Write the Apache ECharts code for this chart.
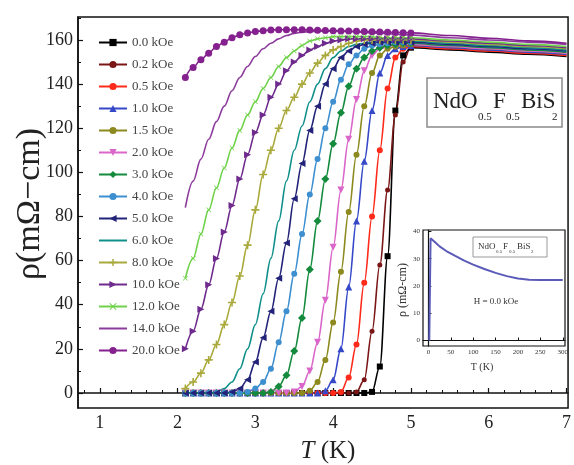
<!DOCTYPE html>
<html>
<head>
<meta charset="utf-8">
<script src="https://cdn.jsdelivr.net/npm/echarts@6/dist/echarts.min.js"></script>
<style>html,body{margin:0;padding:0;background:#fff}#c{width:574px;height:465px}</style>
</head>
<body>
<div id="c"></div>
<script>
// ---------- data ----------
const T = [2.1,2.2,2.3,2.4,2.5,2.6,2.7,2.8,2.9,3.0,3.1,3.2,3.3,3.4,3.5,3.6,3.7,3.8,3.9,4.0,4.1,4.2,4.3,4.4,4.5,4.6,4.7,4.8,4.9,5.0,5.5,6.0,6.5,7.0];
const fieldNames = ['0.0 kOe','0.2 kOe','0.5 kOe','1.0 kOe','1.5 kOe','2.0 kOe','3.0 kOe','4.0 kOe','5.0 kOe','6.0 kOe','8.0 kOe','10.0 kOe','12.0 kOe','14.0 kOe','20.0 kOe'];
const rho_00 = [0,0,0,0,0,0,0,0,0,0,0,0,0,0,0,0,0,0,0,0,0,0,0,0,0.5,12,62,128,153,156.5,155.5,154.5,153.5,152.5];
const rho_02 = [0,0,0,0,0,0,0,0,0,0,0,0,0,0,0,0,0,0,0,0,0,0,0.5,6,28,58,92,126,150,157,156,155,154,153];
const rho_05 = [0,0,0,0,0,0,0,0,0,0,0,0,0,0,0,0,0,0,0,0,0.5,7,22,50,80,110,138,152,156,157,156,155,154,153];
const rho_10 = [0,0,0,0,0,0,0,0,0,0,0,0,0,0,0,0,0,0,1,6,20,48,78,105,128,145,153,156,157,157.5,156.5,155.5,154.5,153.5];
const rho_15 = [0,0,0,0,0,0,0,0,0,0,0,0,0,0,0,0,1,5,15,32,55,82,108,130,145,153,156,157,157.5,158,157,156,155,154];
const rho_20 = [0,0,0,0,0,0,0,0,0,0,0,0,0,0,0.5,3,10,23,42,66,92,115,133,146,153,156,157,157.5,158,158,157,156,155,154];
const rho_30 = [0,0,0,0,0,0,0,0,0,0,0,0.5,3,8,19,34,56,78,97,113,127,139,147,152,155,156.5,157.5,158,158.5,158.5,157.5,156.5,155.5,154.5];
const rho_40 = [0,0,0,0,0,0,0,0,0.5,2,5,11,23,37,54,72,90,106,120,132,142,149,153,156,157.5,158,158.5,159,159,159,158,157,156,155];
const rho_50 = [0,0,0,0,0,0,0.5,2,6,14,25,37,52,68,88,104,119,130,140,147,152,155,157,158,158.5,159,159,159,159,159,158,157,156,155];
const rho_60 = [0,0,0,0,0.5,2,5,11,20,31,45,61,78,96,110,121,132,140,147,152,155,157,158,158.5,159,159.5,159.5,159.5,159.5,159.5,158.5,157.5,156.5,155.5];
const rho_80 = [2,5,9,15,22,31,41,53,67,83,99,110,120,128,134,140,145,149.5,153,155.5,157,158.5,159.5,160,160,160,160,160,160,160,159,158,157,156];
const rho_100 = [20,28,38,49,61,73,85,97,108,118,126,134,140,146,150,153,155.5,157,158.5,159.5,160,160.5,160.5,160.5,160.5,160.5,160.5,160.5,160.5,160.5,159.5,158.5,157.5,156.5];
const rho_120 = [52,61,72,83,93,102,111,119,126,132,138,143,148,152,155,157.5,159.5,160.5,161,161.5,161.5,161.5,161.5,161.5,161.5,161,161,161,161,161,160,159,158,157];
const rho_140 = [84,96,106,115,123,130,137,143,148,152.5,156,158.5,160.5,162,163,163.5,163.8,164,164,164,164,163.8,163.6,163.4,163.2,163,162.8,162.6,162.4,162.2,161,160,159,158];
const rho_200 = [143,147.5,151,154,157,159,161,162.3,163.2,163.8,164.2,164.5,164.6,164.6,164.6,164.6,164.5,164.4,164.3,164.2,164.1,164,163.9,163.8,163.7,163.6,163.5,163.4,163.3,163.2,162,160.8,159.6,158.5];
const allRho = [rho_00,rho_02,rho_05,rho_10,rho_15,rho_20,rho_30,rho_40,rho_50,rho_60,rho_80,rho_100,rho_120,rho_140,rho_200];

// inset data (H = 0.0 kOe)
const insetT = [2,4.4,4.9,8,15,25,40,60,80,100,125,150,175,200,225,250,275,300];
const insetRho = [0,0,37.5,37,36,34.5,32.8,31,29.3,27.8,26.2,24.8,23.6,22.7,22.3,22.2,22.2,22.2];

// tick values
const xMajor = [1,2,3,4,5,6,7];
const xMinor = [0.8,1.2,1.4,1.6,1.8,2.2,2.4,2.6,2.8,3.2,3.4,3.6,3.8,4.2,4.4,4.6,4.8,5.2,5.4,5.6,5.8,6.2,6.4,6.6,6.8];
const yMajor = [0,20,40,60,80,100,120,140,160];
const yMinor = [10,30,50,70,90,110,130,150,170];
const insetXTicks = [0,50,100,150,200,250,300];
const insetYTicks = [0,10,20,30,40];

// ---------- styles ----------
const colors = ['#000000','#7a1616','#ff2a1a','#3548c8','#8c8a1e','#d966c8','#138a3c','#3d8fd0','#23237a','#10908a','#a9a93c','#6e2a8c','#6fd24a','#8c3a9c','#85208f'];
const plus = 'path://M4,0H6V4H10V6H6V10H4V6H0V4H4Z';
const cross = 'path://M1,0L5,4L9,0L10,1L6,5L10,9L9,10L5,6L1,10L0,9L4,5L0,1Z';
const symbols = ['rect','circle','circle','triangle','circle','triangle','diamond','circle','triangle','none',plus,'triangle',cross,'none','circle'];
const rot = [0,0,0,0,0,180,0,0,90,0,0,-90,0,0,0];
const sizes = [6,5,6,7,6,7,8,6,7,0,8,7,5,0,7];
const F = 'Liberation Serif';

const series = allRho.map((r, k) => ({
  name: fieldNames[k],
  type: 'line',
  xAxisIndex: 0, yAxisIndex: 0,
  data: T.map((t, i) => t > 5.01 ? {value: [t, r[i]], symbol: 'none'} : [t, r[i]]),
  symbol: symbols[k],
  symbolRotate: rot[k],
  symbolSize: sizes[k],
  showSymbol: symbols[k] !== 'none',
  smooth: 0.35,
  smoothMonotone: 'x',
  lineStyle: {width: 1.6, color: colors[k]},
  itemStyle: {color: colors[k]},
  emphasis: {disabled: true},
  animation: false
}));

series.push({
  type: 'line', xAxisIndex: 2, yAxisIndex: 2,
  data: insetT.map((t, i) => [t, insetRho[i]]),
  showSymbol: false, symbol: 'none',
  lineStyle: {width: 2, color: '#5a5ab8'},
  animation: false
});

const lineIcon = 'path://M0,0L28,0L28,2L0,2Z';
const legendData = fieldNames.map((n, k) => symbols[k] === 'none' ? {name: n, icon: lineIcon} : {name: n});

function txt(x, y, s, size, color) {
  return {type: 'text', x: x, y: y, style: {text: s, font: size + 'px "Liberation Serif"', fill: color, verticalAlign: 'top'}};
}

const chart = echarts.init(document.getElementById('c'), null, {renderer: 'canvas'});
const option = {
  backgroundColor: '#fff',
  animation: false,
  color: colors,
  legend: {
    data: legendData,
    orient: 'vertical',
    left: 93, top: 31,
    itemWidth: 28, itemHeight: 9, itemGap: 9,
    textStyle: {fontFamily: F, fontSize: 13, color: '#444'},
    selectedMode: false
  },
  grid: [
    {left: 78, top: 17, right: 2, bottom: 57, show: true, borderColor: '#111', borderWidth: 1.5, backgroundColor: 'transparent'},
    {left: 423, top: 230, width: 142, height: 116, show: true, borderColor: '#111', borderWidth: 1.2, backgroundColor: '#fff'}
  ],
  xAxis: [
    {gridIndex: 0, type: 'value', min: 0.72, max: 7.02,
     axisLine: {show: true, lineStyle: {color: '#111', width: 1.5}},
     axisTick: {show: true, inside: true, length: 5, customValues: xMajor, lineStyle: {color: '#111', width: 1.2}},
     axisLabel: {customValues: xMajor, fontFamily: F, fontSize: 18, color: '#222', margin: 6},
     splitLine: {show: false}},
    {gridIndex: 0, type: 'value', min: 0.72, max: 7.02, position: 'bottom',
     axisLine: {show: false},
     axisTick: {show: true, inside: true, length: 3, customValues: xMinor, lineStyle: {color: '#111', width: 1}},
     axisLabel: {show: false}, splitLine: {show: false}},
    {gridIndex: 1, type: 'value', min: -12, max: 305,
     axisLine: {show: true, lineStyle: {color: '#111', width: 1.2}},
     axisTick: {show: true, inside: true, length: 3, customValues: insetXTicks, lineStyle: {color: '#111'}},
     axisLabel: {customValues: insetXTicks, fontFamily: F, fontSize: 7, color: '#333', margin: 3},
     splitLine: {show: false}}
  ],
  yAxis: [
    {gridIndex: 0, type: 'value', min: -6.8, max: 170.4,
     axisLine: {show: true, lineStyle: {color: '#111', width: 1.5}},
     axisTick: {show: true, inside: true, length: 5, customValues: yMajor, lineStyle: {color: '#111', width: 1.2}},
     axisLabel: {customValues: yMajor, fontFamily: F, fontSize: 18, color: '#222', margin: 5},
     splitLine: {show: false}},
    {gridIndex: 0, type: 'value', min: -6.8, max: 170.4, position: 'left',
     axisLine: {show: false},
     axisTick: {show: true, inside: true, length: 3, customValues: yMinor, lineStyle: {color: '#111', width: 1}},
     axisLabel: {show: false}, splitLine: {show: false}},
    {gridIndex: 1, type: 'value', min: -2, max: 40.5,
     axisLine: {show: true, lineStyle: {color: '#111', width: 1.2}},
     axisTick: {show: true, inside: true, length: 3, customValues: insetYTicks, lineStyle: {color: '#111'}},
     axisLabel: {customValues: insetYTicks, fontFamily: F, fontSize: 7, color: '#333', margin: 3},
     splitLine: {show: false}}
  ],
  graphic: [
    {type: 'text', x: 30, y: 204, rotation: Math.PI / 2,
     style: {text: 'ρ(mΩ−cm)', font: '34px "Liberation Serif"', fill: '#222', align: 'center', verticalAlign: 'middle'}},
    {type: 'text', x: 328, y: 451,
     style: {text: '{i|T} (K)', rich: {i: {fontStyle: 'italic', fontFamily: F, fontSize: 25, fill: '#222'}},
             fontFamily: F, fontSize: 25, fill: '#222', align: 'center', verticalAlign: 'middle'}},
    {type: 'rect', shape: {x: 427, y: 78, width: 135, height: 49}, style: {fill: '#fff', stroke: '#8a8a8a', lineWidth: 1.5}},
    txt(433, 90, 'NdO', 23, '#222'),
    txt(478, 112, '0.5', 11, '#222'),
    txt(493, 90, 'F', 23, '#222'),
    txt(506, 112, '0.5', 11, '#222'),
    txt(521, 90, 'BiS', 23, '#222'),
    txt(552, 112, '2', 11, '#222'),
    {type: 'text', x: 403, y: 290, rotation: Math.PI / 2,
     style: {text: 'ρ (mΩ-cm)', font: '12px "Liberation Serif"', fill: '#333', align: 'center', verticalAlign: 'middle'}},
    {type: 'text', x: 482, y: 367,
     style: {text: 'T (K)', font: '10px "Liberation Serif"', fill: '#333', align: 'center', verticalAlign: 'middle'}},
    {type: 'rect', shape: {x: 473, y: 237, width: 74, height: 20}, style: {fill: '#fff', stroke: '#999', lineWidth: 1}},
    txt(478, 242, 'NdO', 9, '#333'),
    txt(496, 249, '0.5', 5, '#333'),
    txt(503, 242, 'F', 9, '#333'),
    txt(509, 249, '0.5', 5, '#333'),
    txt(517, 242, 'BiS', 9, '#333'),
    txt(531, 249, '2', 5, '#333'),
    {type: 'text', x: 496, y: 302,
     style: {text: 'H = 0.0 kOe', font: '9px "Liberation Serif"', fill: '#333', align: 'center', verticalAlign: 'middle'}}
  ],
  series: series
};
chart.setOption(option);
</script>
</body>
</html>
